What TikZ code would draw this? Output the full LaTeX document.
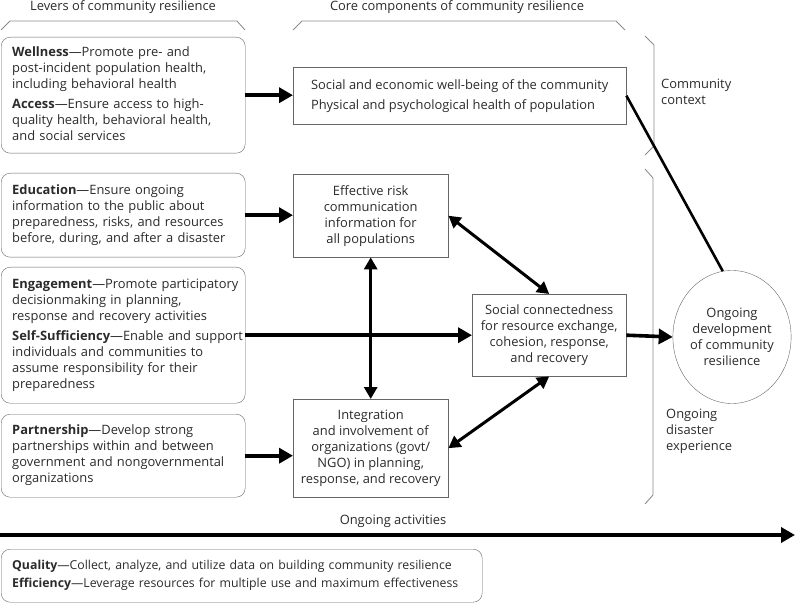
\documentclass[tikz,border=0pt]{standalone}
\usepackage{fontspec}
\setmainfont{Open Sans}
\usetikzlibrary{shapes.geometric,arrows.meta,positioning}
\definecolor{txt}{HTML}{2B2B2B}
\definecolor{edge}{HTML}{666666}
\definecolor{brace}{HTML}{8C8C8C}
\newcommand{\bodyfont}{\fontsize{12.9}{16}\selectfont}
\newcommand{\leverlines}[1]{\begin{tabular}{@{}l@{}}#1\end{tabular}}
\tikzset{
    lever/.style={draw=edge, rounded corners=9pt, align=left, text width=222pt, inner xsep=11pt, inner ysep=0pt, minimum width=244pt, anchor=north west, text=txt, font=\bodyfont},
    core/.style={draw=edge, align=center, inner sep=0pt, anchor=north west, text=txt, font=\bodyfont},
    plain/.style={text=txt, font=\bodyfont, inner sep=0pt},
    bigarrow/.style={-{Triangle[length=14pt,width=15pt]}, line width=3.6pt},
    twoarrow/.style={{Triangle[length=12pt,width=13pt]}-{Triangle[length=12pt,width=13pt]}, line width=3pt},
    bracket/.style={draw=brace, line width=0.9pt}
}
\begin{document}
\begin{tikzpicture}[x=1pt,y=-1pt]
    \useasboundingbox (0,0) rectangle (796,604);
    % headings and brackets
    \node [plain, anchor=base] (levhead) at (123,11) {Levers of community resilience};
    \node [plain, anchor=base] (corehead) at (457,11) {Core components of community resilience};
    \draw [bracket] (1,30)--(10,21)--(237,21)--(245,30);
    \draw [bracket] (293,30)--(302,21)--(616,21)--(625,30);
    \draw [bracket] (645,36)--(654,45)--(654,146)--(645,155);
    \draw [bracket] (645,169)--(653,178)--(653,495)--(645,504);
    \node [plain, anchor=west, align=left] (context) at (661,92) {Community\\context};
    \node [plain, anchor=west, align=left] (disaster) at (666,431) {Ongoing\\disaster\\experience};
    % levers
    \node [lever, minimum height=116pt] (well) at (1,37) {\leverlines{\textbf{Wellness}\textemdash Promote pre- and\\post-incident population health,\\including behavioral health\\[4pt]\textbf{Access}\textemdash Ensure access to high-\\quality health, behavioral health,\\and social services}};
    \node [lever, minimum height=84pt] (edu) at (1,173) {\leverlines{\textbf{Education}\textemdash Ensure ongoing\\information to the public about\\preparedness, risks, and resources\\before, during, and after a disaster}};
    \node [lever, minimum height=136pt] (engage) at (1,267) {\leverlines{\textbf{Engagement}\textemdash Promote participatory\\decisionmaking in planning,\\response and recovery activities\\[4pt]\textbf{Self-Sufficiency}\textemdash Enable and support\\individuals and communities to\\assume responsibility for their\\preparedness}};
    \node [lever, minimum height=83pt] (partner) at (1,414) {\leverlines{\textbf{Partnership}\textemdash Develop strong\\partnerships within and between\\government and nongovernmental\\organizations}};
    \node [lever, text width=459pt, minimum width=481pt, minimum height=53pt, font=\fontsize{12.3}{16}\selectfont] (quality) at (1,549) {\leverlines{\textbf{Quality}\textemdash Collect, analyze, and utilize data on building community resilience\\[2pt]\textbf{Efficiency}\textemdash Leverage resources for multiple use and maximum effectiveness}};
    % core components
    \node [core, align=left, minimum width=333pt, minimum height=57pt] (econ) at (293,67) {Social and economic well-being of the community\\[4pt]Physical and psychological health of population};
    \node [core, minimum width=155pt, minimum height=83pt] (risk) at (293,174) {Effective risk\\communication\\information for\\all populations};
    \node [core, minimum width=155pt, minimum height=98pt] (integ) at (293,399) {Integration\\and involvement of\\organizations (govt/\\NGO) in planning,\\response, and recovery};
    \node [core, minimum width=154pt, minimum height=82pt] (social) at (472,294) {Social connectedness\\for resource exchange,\\cohesion, response,\\and recovery};
    \node [ellipse, draw=edge, plain, align=center, minimum width=111pt, minimum height=133pt] (develop) at (732,337) {Ongoing\\development\\of community\\resilience};
    % connectors
    \draw [bigarrow] (well.east) -- (well.east -| econ.west);
    \draw [bigarrow] (edu.east) -- (edu.east -| risk.west);
    \draw [bigarrow] (partner.east) -- (partner.east -| integ.west);
    \draw [bigarrow] (engage.east) -- (engage.east -| social.west);
    \draw [bigarrow] (social.east) -- (develop.west);
    \draw [twoarrow, line width=3.4pt] (risk.south) -- (integ.north);
    \draw [twoarrow] (risk.east) -- (social.north);
    \draw [twoarrow] (social.south) -- (integ.east);
    \draw [line width=2.6pt] (econ.east) -- (develop.98);
    % ongoing activities
    \coordinate (act0) at (0,535);
    \coordinate (act1) at (795,535);
    \draw [bigarrow] (act0) -- (act1);
    \node [plain, anchor=south] (acthead) at (393,528) {Ongoing activities};
\end{tikzpicture}
\end{document}
